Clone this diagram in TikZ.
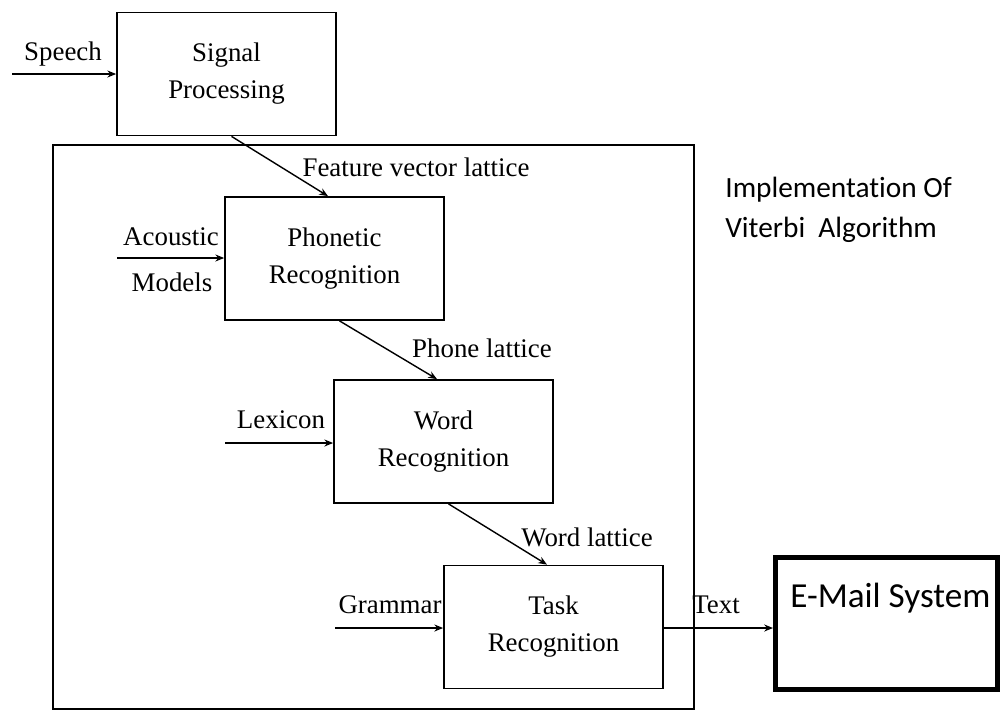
\documentclass[tikz,border=0pt]{standalone}
\usepackage{fontspec}
\setmainfont{Liberation Serif}
\newfontfamily\calibfont{Carlito}
\usetikzlibrary{arrows.meta}

\begin{document}
\begin{tikzpicture}[x=0.02cm, y=-0.02cm,
  stage/.style={draw, line width=1pt, minimum width=4.38cm, minimum height=2.46cm,
    align=center, font=\fontsize{15.3}{21}\selectfont},
  lbl/.style={inner sep=0pt, font=\fontsize{15.3}{18}\selectfont},
  flow/.style={-{Stealth[length=5pt,width=4pt]}, line width=0.8pt}]
\useasboundingbox (0,0) rectangle (1000,711);
% outer frame and boxes
\node[draw, line width=1pt, minimum width=12.82cm, minimum height=11.28cm, anchor=north west] (core) at (52,144) {};
\node[stage] (sig) at (226.5,74) {Signal\\Processing};
\node[stage] (phon) at (334.5,258.5) {Phonetic\\Recognition};
\node[stage] (word) at (443.5,441.5) {Word\\Recognition};
\node[stage] (task) at (553.5,627) {Task\\Recognition};
\node[draw, line width=2.8pt, minimum width=4.44cm, minimum height=2.64cm, anchor=north west] (email) at (773,555) {};
\node[anchor=west, inner sep=0pt, font=\calibfont\fontsize{20}{24}\selectfont] (emailtxt) at (790,598) {E-Mail System};
\node[anchor=north west, inner sep=0pt, align=left, font=\calibfont\fontsize{16.7}{22.7}\selectfont] (viterbi) at (725,177) {Implementat\kern0pt ion Of\\Viterbi\ \ Algorithm};
% inputs
\coordinate (speechin) at (12,74);
\coordinate (acin) at (117,258);
\coordinate (lexin) at (225,443);
\coordinate (gramin) at (335,628);
\foreach \src/\dst in {speechin/sig, acin/phon, lexin/word, gramin/task}
  \draw[flow] (\src) -- (\src -| \dst.west);
\draw[flow] (task.east |- gramin) -- (gramin -| email.west);
\foreach \a/\b in {sig/phon, phon/word, word/task}
  \draw[flow] ([xshift=0.1cm]\a.south) -- ([xshift=-0.13cm]\b.north);
% labels
\node[lbl] (speech) at (63,54) {Speech};
\node[lbl] (acoustic) at (171,237) {Acoustic};
\node[lbl] (models) at (172,282) {Models};
\node[lbl] (lexicon) at (281,420) {Lexicon};
\node[lbl] (grammar) at (390,605) {Grammar};
\node[lbl] (text) at (716,605) {Text};
\node[lbl] (featlat) at (416,167) {Feature vector lattice};
\node[lbl] (phonelat) at (482,348) {Phone lattice};
\node[lbl] (wordlat) at (587,537) {Word lattice};
\end{tikzpicture}
\end{document}
